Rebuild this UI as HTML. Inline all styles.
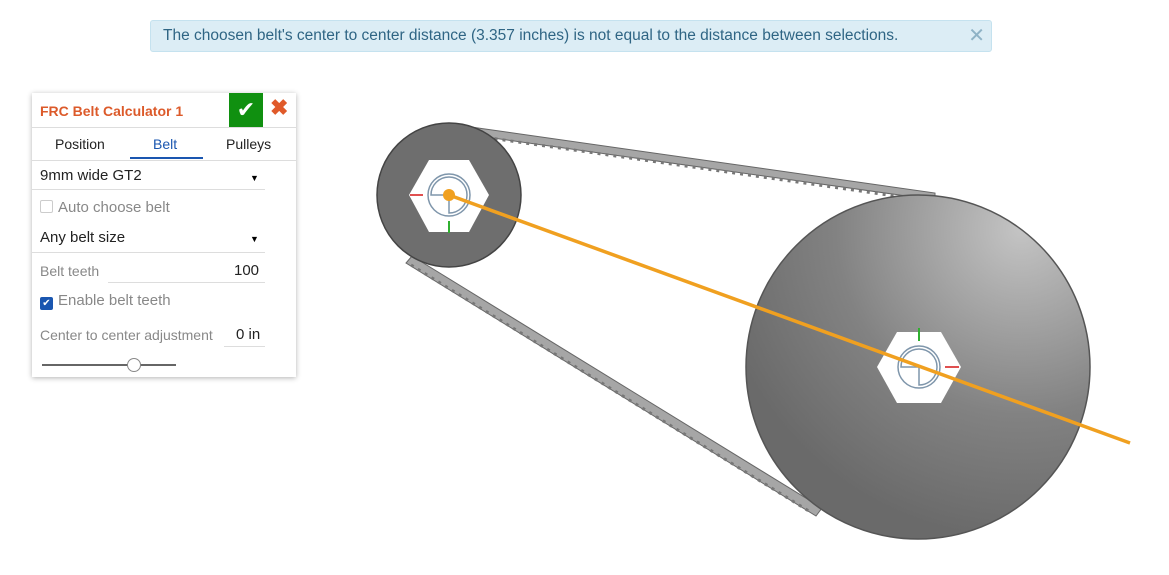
<!DOCTYPE html>
<html><head><meta charset="utf-8"><style>
body{margin:0;width:1169px;height:575px;background:#fff;position:relative;overflow:hidden;font-family:"Liberation Sans",sans-serif}
.banner{position:absolute;left:150px;top:20px;width:842px;height:32px;background:#dcedf5;border:1px solid #c5e2ef;border-radius:3px;box-sizing:border-box;color:#2f6584;font-size:15.5px;line-height:30px;padding-left:12px}
.banner .x{position:absolute;right:6px;top:0;color:#8fb3c6;font-size:20px}
.panel{position:absolute;left:32px;top:93px;width:264px;height:284px;background:#fff;box-shadow:0 1px 5px rgba(0,0,0,.3)}
.title{position:absolute;left:8px;top:10px;color:#dc5a2a;font-weight:bold;font-size:14px}
.ok{position:absolute;left:197px;top:0;width:34px;height:34px;background:#109010;color:#fff;font-size:22px;text-align:center;line-height:34px}
.cancel{position:absolute;left:238px;top:2px;color:#e05a2a;font-size:22px;font-weight:bold}
.tabs{position:absolute;left:0;top:34px;width:264px;height:32px;border-top:1px solid #ddd;border-bottom:1px solid #ddd;font-size:14px}
.tab{position:absolute;top:8px;color:#222}
.row{position:absolute;left:8px;font-size:15px;color:#222}
.line{position:absolute;height:1px;background:#ddd}
.grey{color:#888;font-size:14px}
</style></head><body>
<div class="banner">The choosen belt's center to center distance (3.357 inches) is not equal to the distance between selections.<span class="x">✕</span></div>
<svg style="position:absolute;left:0;top:0" width="1169" height="575">
<defs><radialGradient id="g" cx="0.8" cy="0.1" r="0.9"><stop offset="0" stop-color="#c4c4c4"/><stop offset="0.6" stop-color="#828282"/><stop offset="1" stop-color="#6a6a6a"/></radialGradient></defs>
<g>
<polygon points="450,124 935,193 935,200 450,132" fill="#a6a6a6" stroke="#666" stroke-width="1"/>
<polygon points="412,256 822,508 816,516 406,263" fill="#a6a6a6" stroke="#666" stroke-width="1"/>
<line x1="455" y1="133" x2="930" y2="201" stroke="#777" stroke-width="3" stroke-dasharray="3,5"/>
<line x1="411" y1="265" x2="812" y2="513" stroke="#777" stroke-width="3" stroke-dasharray="3,5"/>
</g>
<circle cx="918" cy="367" r="172" fill="url(#g)" stroke="#555" stroke-width="1.5"/>
<circle cx="449" cy="195" r="72" fill="#6e6e6e" stroke="#444" stroke-width="1.5"/>
<polygon points="409,195 429,160 469,160 489,195 469,232 429,232" fill="#fff"/>
<polygon points="877,367 897,332 941,332 961,367 941,403 897,403" fill="#fff"/>
<g fill="none" stroke="#7f96ab" stroke-width="1.5">
<circle cx="449" cy="195" r="21"/><path d="M431,195 A18,18 0 1 1 449,213 V195 Z"/>
<circle cx="919" cy="367" r="21"/><path d="M901,367 A18,18 0 1 1 919,385 V367 Z"/></g>
<line x1="410" y1="195" x2="423" y2="195" stroke="#e05050" stroke-width="2"/>
<line x1="449" y1="221" x2="449" y2="233" stroke="#30b030" stroke-width="2"/>
<line x1="945" y1="367" x2="959" y2="367" stroke="#e05050" stroke-width="2"/>
<line x1="919" y1="328" x2="919" y2="341" stroke="#30b030" stroke-width="2"/>
<line x1="449" y1="195" x2="1130" y2="443" stroke="#f0a020" stroke-width="3.5"/>
<circle cx="449" cy="195" r="6" fill="#f0a020"/>
</svg>
<div class="panel">
<div class="title">FRC Belt Calculator 1</div>
<div class="ok">✔</div>
<div class="cancel">✖</div>
<div class="tabs">
<span class="tab" style="left:23px">Position</span>
<span class="tab" style="left:121px;color:#1a56b0">Belt</span>
<div style="position:absolute;left:98px;top:29px;width:73px;height:2px;background:#1a56b0"></div>
<span class="tab" style="left:194px">Pulleys</span>
</div>
<div class="row" style="top:74px">9mm wide GT2</div>
<div style="position:absolute;left:218px;top:80px;font-size:9px">▼</div>
<div class="line" style="left:0;top:96px;width:233px"></div>
<div class="row grey" style="top:106px;font-size:15px"><span style="display:inline-block;width:11px;height:11px;border:1px solid #ccc;border-radius:2px;vertical-align:-1px;margin-right:5px"></span>Auto choose belt</div>
<div class="row" style="top:136px">Any belt size</div>
<div style="position:absolute;left:218px;top:141px;font-size:9px">▼</div>
<div class="line" style="left:0;top:159px;width:233px"></div>
<div class="row grey" style="top:170px">Belt teeth</div>
<div class="row" style="top:169px;left:202px">100</div>
<div class="line" style="left:76px;top:189px;width:157px"></div>
<div class="row grey" style="top:199px;font-size:15px"><span style="display:inline-block;width:13px;height:13px;background:#1a56b0;border-radius:2px;vertical-align:-1px;margin-right:5px;color:#fff;font-size:10px;line-height:13px;text-align:center">✔</span>Enable belt teeth</div>
<div class="row grey" style="top:234px">Center to center adjustment</div>
<div class="row" style="top:233px;left:204px">0 in</div>
<div class="line" style="left:192px;top:253px;width:41px"></div>
<div style="position:absolute;left:10px;top:271px;width:134px;height:2px;background:#666"></div>
<div style="position:absolute;left:95px;top:265px;width:12px;height:12px;border:1px solid #888;border-radius:50%;background:#fff"></div>
</div>
</body></html>
